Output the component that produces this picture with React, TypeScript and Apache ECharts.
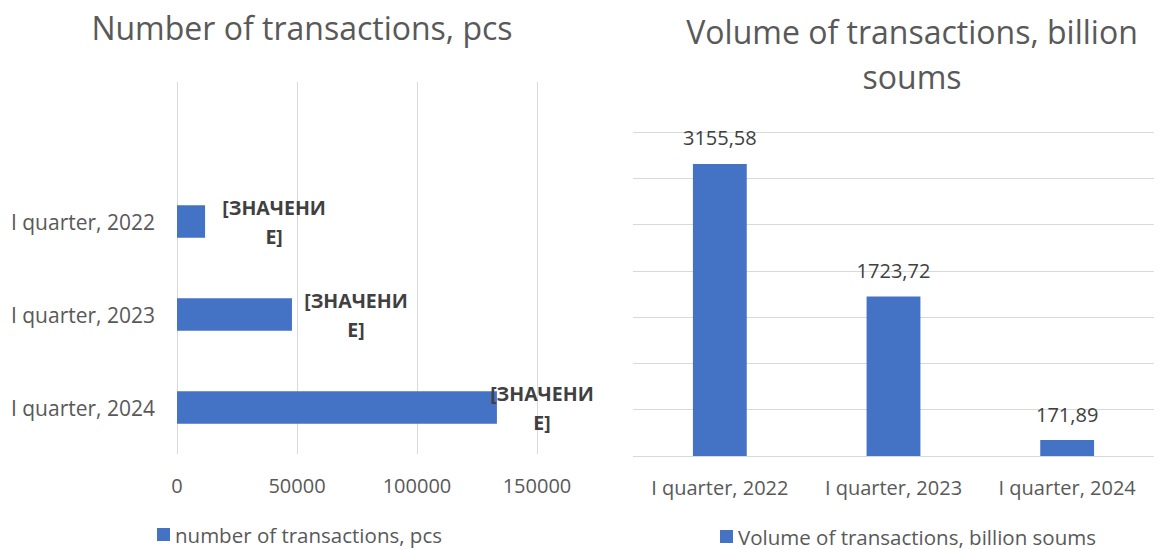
import React, { useEffect, useRef } from "react";
import * as echarts from "echarts";

const countCategories = ["I quarter, 2024", "I quarter, 2023", "I quarter, 2022", ""];
const countValues: (number | null)[] = [133300, 47900, 11700, null];
const countLabelText = "[ЗНАЧЕНИ\nЕ]";
const countLabelShift = [40, 59, 64, 0];
const countTicks = [0, 50000, 100000, 150000];

const volumeCategories = ["I quarter, 2022", "I quarter, 2023", "I quarter, 2024"];
const volumeValues = [3155.58, 1723.72, 171.89];

const countName = "number of transactions, pcs";
const volumeName = "Volume of transactions, billion soums";

const FONT = "'Open Sans', 'Noto Sans', sans-serif";
const GRAY = "#595959";
const DARK = "#404040";
const BLUE = "#4472C4";
const GRID = "#d9d9d9";

export default function App() {
  const ref = useRef<HTMLDivElement>(null);
  useEffect(() => {
    if (!ref.current) return;
    const chart = echarts.init(ref.current, null, { renderer: "svg" });
    chart.setOption({
      animation: false,
      textStyle: { fontFamily: FONT },
      title: [
        {
          text: "Number of transactions, pcs",
          left: 297,
          top: 2,
          textAlign: "center",
          textStyle: { fontFamily: FONT, fontSize: 32, fontWeight: "normal", color: GRAY, lineHeight: 40 },
        },
        {
          text: "Volume of transactions, billion\nsoums",
          left: 907,
          top: 4,
          textAlign: "center",
          textStyle: { fontFamily: FONT, fontSize: 32, fontWeight: "normal", color: GRAY, lineHeight: 45 },
        },
      ],
      legend: [
        {
          data: [countName],
          left: 157,
          top: 524,
          icon: "rect",
          itemWidth: 13,
          itemHeight: 13,
          padding: 0,
          textStyle: { fontFamily: FONT, fontSize: 20.5, color: GRAY, lineHeight: 20 },
        },
        {
          data: [volumeName],
          left: 720,
          top: 526,
          icon: "rect",
          itemWidth: 13,
          itemHeight: 13,
          padding: 0,
          textStyle: { fontFamily: FONT, fontSize: 20.5, color: GRAY, lineHeight: 20 },
        },
      ],
      grid: [
        { left: 177, right: 630, top: 82, bottom: 95 },
        { left: 633, right: 13, top: 132, bottom: 93 },
      ],
      xAxis: [
        {
          gridIndex: 0,
          type: "value",
          min: countTicks[0],
          max: countTicks[countTicks.length - 1],
          interval: countTicks[1] - countTicks[0],
          axisLine: { show: false },
          axisTick: { show: false },
          axisLabel: { color: GRAY, fontSize: 20, fontFamily: FONT, margin: 21, formatter: (v: number) => String(v) },
          splitLine: { lineStyle: { color: GRID, width: 1 } },
        },
        {
          gridIndex: 1,
          type: "category",
          data: volumeCategories,
          axisLine: { show: false },
          axisTick: { show: false },
          axisLabel: { color: GRAY, fontSize: 20, fontFamily: FONT, margin: 21, interval: 0 },
        },
      ],
      yAxis: [
        {
          gridIndex: 0,
          type: "category",
          data: countCategories,
          axisLine: { show: false },
          axisTick: { show: false },
          axisLabel: { color: GRAY, fontSize: 21, fontFamily: FONT, margin: 22, interval: 0 },
        },
        {
          gridIndex: 1,
          type: "value",
          min: 0,
          max: 3500,
          interval: 500,
          axisLine: { show: false },
          axisTick: { show: false },
          axisLabel: { show: false },
          splitLine: { lineStyle: { color: GRID, width: 1 } },
        },
      ],
      series: [
        {
          name: countName,
          type: "bar",
          xAxisIndex: 0,
          yAxisIndex: 0,
          barWidth: "35%",
          itemStyle: { color: BLUE },
          data: countValues.map((v, i) => ({
            value: v,
            label: { offset: [countLabelShift[i], 0] },
          })),
          label: {
            show: true,
            position: "right",
            align: "center",
            formatter: () => countLabelText,
            fontFamily: FONT,
            fontSize: 19.5,
            fontWeight: "bold",
            color: DARK,
            lineHeight: 29,
          },
        },
        {
          name: volumeName,
          type: "bar",
          xAxisIndex: 1,
          yAxisIndex: 1,
          barWidth: "31%",
          itemStyle: { color: BLUE },
          data: volumeValues,
          label: {
            show: true,
            position: "top",
            distance: 16,
            formatter: (p: any) => String(p.value).replace(".", ","),
            fontFamily: FONT,
            fontSize: 20,
            color: DARK,
          },
        },
      ],
    });
    return () => chart.dispose();
  }, []);
  return (
    <div
      ref={ref}
      style={{ position: "fixed", left: 0, top: 0, width: 1167, height: 549, background: "#fff" }}
    />
  );
}
